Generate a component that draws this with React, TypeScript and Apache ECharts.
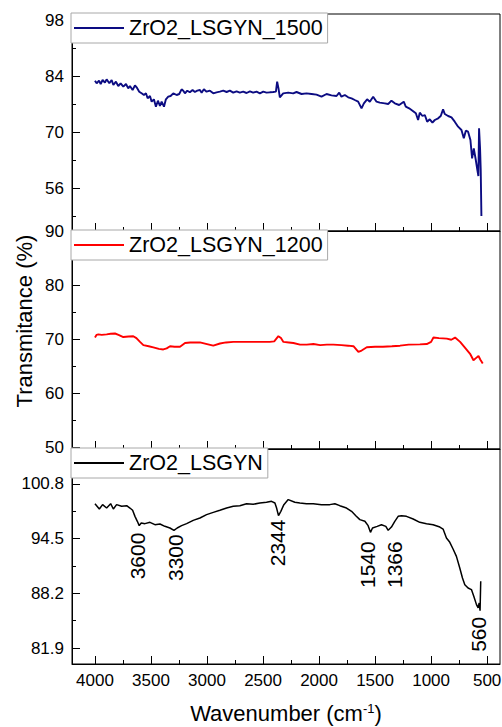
import React, { useEffect, useRef } from "react";
import * as echarts from "echarts";

const FONT = "'Liberation Sans', Arial, Helvetica, sans-serif";

const seriesNames = ["ZrO2_LSGYN_1500", "ZrO2_LSGYN_1200", "ZrO2_LSGYN"];
const seriesColors = ["#0c0c82", "#ff0000", "#000000"];

// ---- ZrO2_LSGYN_1500 (top panel) ----
const wn1500 = [
  4000, 3985, 3964, 3949, 3932, 3911, 3896, 3872, 3851, 3836, 3813, 3792, 3771, 3747, 3723, 3703, 3688,
  3664, 3643, 3628, 3605, 3584, 3563, 3545, 3530, 3509, 3494, 3474, 3456, 3438, 3420, 3405, 3384, 3367,
  3346, 3325, 3301, 3271, 3248, 3227, 3212, 3197, 3176, 3153, 3129, 3108, 3087, 3063, 3048, 3028, 3004,
  2974, 2944, 2915, 2885, 2855, 2825, 2796, 2766, 2736, 2707, 2677, 2647, 2617, 2588, 2558, 2528, 2498,
  2469, 2439, 2409, 2385, 2374, 2362, 2350, 2320, 2275, 2231, 2201, 2156, 2112, 2067, 2023, 1978, 1933,
  1889, 1844, 1820, 1800, 1770, 1740, 1710, 1681, 1651, 1621, 1600, 1571, 1547, 1517, 1487, 1458, 1413,
  1383, 1354, 1324, 1285, 1244, 1226, 1196, 1166, 1136, 1116, 1101, 1077, 1056, 1035, 1012, 988, 967,
  937, 914, 893, 878, 848, 818, 789, 759, 729, 708, 690, 670, 649, 634, 619, 601, 587, 578, 572, 563,
  557, 551,
];
const t1500 = [
  82.83, 82.17, 82.83, 82.0, 83.0, 82.33, 83.17, 82.17, 83.0, 81.75, 82.58, 81.5, 82.17, 81.33, 82.0,
  80.92, 81.5, 80.5, 81.67, 81.17, 80.08, 79.67, 79.25, 79.67, 78.42, 79.0, 77.58, 78.17, 76.33, 77.83,
  76.5, 77.58, 76.33, 78.17, 78.83, 79.0, 79.67, 79.25, 79.5, 80.67, 80.33, 79.67, 80.33, 79.92, 80.5,
  80.0, 80.33, 80.5, 79.83, 80.67, 80.08, 80.33, 79.67, 79.92, 80.08, 80.33, 80.0, 80.33, 79.83, 80.17,
  79.83, 80.08, 79.75, 80.17, 79.83, 80.08, 79.67, 80.08, 79.83, 79.92, 80.0, 80.08, 82.58, 80.92,
  78.67, 79.67, 79.83, 79.67, 80.0, 79.5, 79.67, 79.5, 79.33, 78.83, 79.5, 79.17, 79.0, 79.83, 78.83,
  79.25, 78.67, 78.42, 78.0, 77.58, 75.92, 77.17, 78.17, 77.58, 78.83, 77.58, 77.33, 77.17, 77.0, 77.83,
  77.17, 76.75, 77.58, 76.33, 75.92, 75.33, 74.67, 73.0, 74.83, 74.0, 74.25, 72.58, 73.17, 72.33, 73.0,
  73.42, 74.0, 75.67, 74.5, 74.0, 73.67, 72.58, 71.33, 70.5, 68.42, 70.33, 70.08, 68.0, 63.42, 65.92,
  63.0, 60.5, 59.0, 70.92, 65.92, 60.5, 49.0,
];

// ---- ZrO2_LSGYN_1200 (middle panel) ----
const wn1200 = [
  4000, 3985, 3970, 3940, 3896, 3860, 3821, 3790, 3747, 3700, 3658, 3630, 3598, 3568, 3520, 3479, 3430,
  3390, 3360, 3330, 3290, 3241, 3196, 3150, 3100, 3063, 3000, 2944, 2884, 2830, 2765, 2680, 2586, 2500,
  2440, 2400, 2363, 2340, 2318, 2270, 2229, 2170, 2110, 2050, 1990, 1930, 1872, 1800, 1740, 1693, 1649,
  1620, 1574, 1500, 1430, 1350, 1277, 1200, 1100, 1039, 1000, 979, 930, 860, 820, 786, 741, 700, 652,
  622, 600, 577, 560, 539,
];
const t1200 = [
  70.3, 70.8, 70.9, 70.8, 70.9, 71.0, 71.05, 70.8, 70.4, 70.5, 70.55, 70.2, 69.5, 68.9, 68.7, 68.5, 68.2,
  68.1, 68.3, 68.7, 68.6, 68.6, 69.3, 69.4, 69.4, 69.4, 69.1, 68.8, 69.2, 69.4, 69.5, 69.5, 69.5, 69.5,
  69.5, 69.6, 70.55, 70.2, 69.5, 69.4, 69.3, 69.0, 69.0, 69.1, 68.9, 69.0, 69.0, 68.9, 68.8, 68.7, 67.65,
  67.9, 68.5, 68.6, 68.6, 68.7, 68.8, 69.0, 69.05, 69.1, 69.5, 70.3, 70.2, 70.1, 69.9, 70.3, 69.5, 68.5,
  67.3, 66.1, 66.5, 66.9, 66.2, 65.5,
];

// ---- ZrO2_LSGYN (bottom panel) ----
const wnBase = [
  4000, 3961, 3932, 3896, 3860, 3836, 3807, 3762, 3717, 3688, 3664, 3643, 3622, 3605, 3587, 3554, 3509,
  3465, 3420, 3376, 3331, 3295, 3266, 3227, 3182, 3123, 3063, 3004, 2944, 2885, 2825, 2766, 2707, 2647,
  2588, 2528, 2469, 2424, 2394, 2379, 2362, 2341, 2314, 2275, 2216, 2171, 2112, 2052, 1978, 1904, 1859,
  1815, 1755, 1710, 1672, 1636, 1591, 1562, 1541, 1523, 1481, 1443, 1404, 1383, 1354, 1324, 1294, 1264,
  1220, 1160, 1101, 1041, 982, 922, 893, 863, 833, 804, 774, 744, 720, 699, 670, 640, 619, 595, 580, 571,
  563, 557,
];
const tBase = [
  98.53, 97.92, 98.42, 98.03, 98.53, 97.92, 98.42, 98.23, 98.3, 98.03, 97.77, 97.07, 96.5, 96.0, 96.31,
  96.23, 96.38, 96.11, 96.19, 95.92, 95.73, 95.46, 95.73, 96.0, 96.23, 96.61, 96.88, 97.27, 97.53, 97.77,
  98.03, 98.23, 98.3, 98.53, 98.46, 98.61, 98.69, 98.8, 98.61, 98.03, 97.15, 97.65, 98.42, 99.0, 98.69,
  98.61, 98.53, 98.53, 98.42, 98.42, 98.53, 98.3, 98.03, 97.65, 97.15, 96.69, 96.5, 96.0, 95.23, 95.73,
  95.92, 96.11, 95.92, 95.46, 95.84, 96.5, 97.07, 97.15, 97.07, 96.77, 96.38, 96.23, 96.11, 95.84, 95.61,
  94.58, 94.08, 93.31, 92.46, 91.12, 89.97, 89.2, 88.82, 88.63, 87.86, 86.9, 86.52, 87.09, 86.2, 89.6,
];

// ---- peak annotations (bottom panel) ----
const peakLabels = ["3600", "3300", "2344", "1540", "1366", "560"];
const peakWn = [3616, 3277, 2368, 1565, 1324, 575];
const peakT = [95.2, 95.0, 96.7, 94.2, 94.2, 85.5];

// ---- axes ----
const xRange = [385, 4205];
const xTicks = [500, 1000, 1500, 2000, 2500, 3000, 3500, 4000];
const xMinorTicks = [750, 1250, 1750, 2250, 2750, 3250, 3750];

const yRanges = [
  [45.25, 99.5],
  [49.7, 90],
  [80.06, 104.83],
];
const yTicks = [
  [56, 70, 84, 98],
  [50, 60, 70, 80, 90],
  [81.9, 88.2, 94.5, 100.8],
];
const yMinorTicks = [
  [49, 63, 77, 91],
  [55, 65, 75, 85],
  [85.05, 91.35, 97.65],
];
const yDecimals = [0, 0, 1];

const xTitle = "Wavenumber (cm{sup|-1})";
const yTitle = "Transmitance (%)";

function buildOption() {
  const grids = [
    { left: 72, right: 2, top: 14, height: 217 },
    { left: 72, right: 2, top: 231, height: 218 },
    { left: 72, right: 2, top: 449, height: 215 },
  ].map((g) => ({
    ...g,
    show: true,
    containLabel: false,
    outerBoundsMode: "none",
    borderColor: "#000",
    borderWidth: 1,
    backgroundColor: "#fff",
  }));

  const xAxes: any[] = [];
  const yAxes: any[] = [];
  for (let i = 0; i < 3; i++) {
    xAxes.push({
      gridIndex: i,
      type: "value",
      position: "bottom",
      min: xRange[0],
      max: xRange[1],
      inverse: true,
      axisLine: { show: true, onZero: false, lineStyle: { color: "#000", width: 1 } },
      axisTick: { show: true, inside: true, length: 8, customValues: xTicks, lineStyle: { color: "#000", width: 1 } },
      axisLabel: {
        show: i === 2,
        customValues: xTicks,
        margin: 8,
        fontSize: 17,
        color: "#000",
        fontFamily: FONT,
        formatter: (v: number) => String(Math.round(v)),
      },
      splitLine: { show: false },
      ...(i === 2
        ? {
            name: xTitle,
            nameLocation: "middle",
            nameGap: 38,
            nameTextStyle: {
              fontSize: 22,
              color: "#000",
              fontFamily: FONT,
              rich: { sup: { fontSize: 13, color: "#000", fontFamily: FONT, verticalAlign: "top", lineHeight: 13 } },
            },
          }
        : {}),
    });
    yAxes.push({
      gridIndex: i,
      type: "value",
      position: "left",
      min: yRanges[i][0],
      max: yRanges[i][1],
      axisLine: { show: true, onZero: false, lineStyle: { color: "#000", width: 1 } },
      axisTick: { show: true, inside: true, length: 8, customValues: yTicks[i], lineStyle: { color: "#000", width: 1 } },
      axisLabel: {
        show: true,
        customValues: yTicks[i],
        margin: 8,
        fontSize: 17,
        color: "#000",
        fontFamily: FONT,
        formatter: (v: number) => v.toFixed(yDecimals[i]),
      },
      splitLine: { show: false },
    });
  }
  for (let i = 0; i < 3; i++) {
    xAxes.push({
      gridIndex: i,
      type: "value",
      position: "bottom",
      min: xRange[0],
      max: xRange[1],
      inverse: true,
      axisLine: { show: false, onZero: false },
      axisTick: { show: true, inside: true, length: 4, customValues: xMinorTicks, lineStyle: { color: "#000", width: 1 } },
      axisLabel: { show: false },
      splitLine: { show: false },
    });
    yAxes.push({
      gridIndex: i,
      type: "value",
      position: "left",
      min: yRanges[i][0],
      max: yRanges[i][1],
      axisLine: { show: false, onZero: false },
      axisTick: { show: true, inside: true, length: 4, customValues: yMinorTicks[i], lineStyle: { color: "#000", width: 1 } },
      axisLabel: { show: false },
      splitLine: { show: false },
    });
  }

  const wns = [wn1500, wn1200, wnBase];
  const ts = [t1500, t1200, tBase];
  const widths = [1.9, 1.9, 1.5];
  const series: any[] = wns.map((w, i) => ({
    type: "line",
    name: seriesNames[i],
    xAxisIndex: i,
    yAxisIndex: i,
    data: w.map((x, k) => [x, ts[i][k]]),
    symbol: "none",
    showSymbol: false,
    silent: true,
    lineStyle: { color: seriesColors[i], width: widths[i] },
    itemStyle: { color: seriesColors[i] },
  }));
  series.push({
    type: "scatter",
    name: "peaks",
    xAxisIndex: 2,
    yAxisIndex: 2,
    data: peakWn.map((x, k) => [x, peakT[k], peakLabels[k]]),
    symbolSize: 1,
    silent: true,
    itemStyle: { color: "rgba(0,0,0,0)", opacity: 1 },
    label: {
      show: true,
      position: "inside",
      distance: 0,
      rotate: 90,
      align: "right",
      verticalAlign: "middle",
      formatter: (p: any) => p.data[2],
      fontSize: 21,
      color: "#000",
      opacity: 1,
      textBorderWidth: 0,
      textBorderColor: "transparent",
      fontFamily: FONT,
    },
    z: 5,
  });

  const legendTops = [13, 230, 448];
  const legends = seriesNames.map((n, i) => ({
    show: true,
    data: [{ name: n, icon: "rect", itemStyle: { color: seriesColors[i] } }],
    left: 71,
    top: legendTops[i],
    orient: "horizontal",
    padding: [4, 5, 4, 3],
    itemWidth: 50,
    itemHeight: 2,
    itemGap: 0,
    selectedMode: false,
    backgroundColor: "#fff",
    borderColor: "#a8a8a8",
    borderWidth: 1,
    textStyle: { fontSize: 21.5, color: "#000", fontFamily: FONT },
  }));

  return {
    animation: false,
    backgroundColor: "#fff",
    grid: grids,
    xAxis: xAxes,
    yAxis: yAxes,
    legend: legends,
    series,
    graphic: [
      {
        type: "text",
        x: 24,
        y: 321,
        rotation: Math.PI / 2,
        silent: true,
        style: {
          text: yTitle,
          fontSize: 22,
          fontFamily: FONT,
          fill: "#000",
          align: "center",
          verticalAlign: "middle",
          textAlign: "center",
          textVerticalAlign: "middle",
        },
      },
    ],
  };
}

export default function App() {
  const ref = useRef<HTMLDivElement>(null);
  useEffect(() => {
    if (!ref.current) return;
    const chart = echarts.init(ref.current, null, { renderer: "svg" });
    chart.setOption(buildOption() as any);
    return () => chart.dispose();
  }, []);
  return (
    <div
      ref={ref}
      style={{ position: "absolute", left: 0, top: 0, width: 502, height: 727, background: "#fff" }}
    />
  );
}
